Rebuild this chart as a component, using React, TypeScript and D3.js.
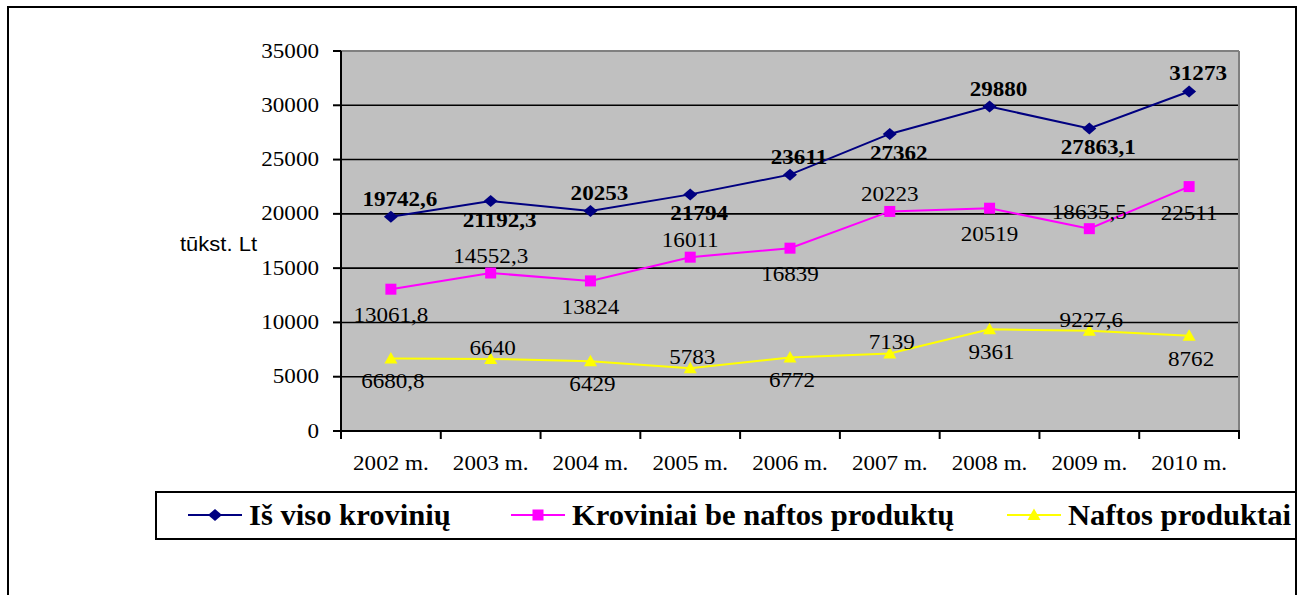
import React from "react";
import * as d3 from "d3";

const years = ["2002 m.", "2003 m.", "2004 m.", "2005 m.", "2006 m.", "2007 m.", "2008 m.", "2009 m.", "2010 m."];
const totalValues = [19742.6, 21192.3, 20253, 21794, 23611, 27362, 29880, 27863.1, 31273];
const nonOilValues = [13061.8, 14552.3, 13824, 16011, 16839, 20223, 20519, 18635.5, 22511];
const oilValues = [6680.8, 6640, 6429, 5783, 6772, 7139, 9361, 9227.6, 8762];
const totalLabels = ["19742,6", "21192,3", "20253", "21794", "23611", "27362", "29880", "27863,1", "31273"];
const nonOilLabels = ["13061,8", "14552,3", "13824", "16011", "16839", "20223", "20519", "18635,5", "22511"];
const oilLabels = ["6680,8", "6640", "6429", "5783", "6772", "7139", "9361", "9227,6", "8762"];
const totalPlace = ["a", "b", "a", "b", "a", "b", "a", "b", "a"];
const nonOilPlace = ["b", "a", "b", "a", "b", "a", "b", "a", "b"];
const oilPlace = ["b", "a", "b", "a", "b", "a", "b", "a", "b"];
const yTicks = [0, 5000, 10000, 15000, 20000, 25000, 30000, 35000];
const seriesNames = ["Iš viso krovinių", "Kroviniai be naftos produktų", "Naftos produktai"];

const SERIF = "'Liberation Serif', 'Times New Roman', serif";
const SANS = "'Liberation Sans', Arial, sans-serif";
const SX = 1.1;

function T({ x, y, anchor = "middle", size = 21, weight = "normal", family = SERIF, sx = SX, children }: any) {
  return (
    <text
      transform={`translate(${x},${y}) scale(${sx},1)`}
      textAnchor={anchor}
      fontSize={size}
      fontWeight={weight}
      fontFamily={family}
      fill="#000"
    >
      {children}
    </text>
  );
}

function Marker({ kind, cx, cy }: any) {
  if (kind === "diamond") {
    return <path d={`M${cx},${cy - 6} L${cx + 7},${cy} L${cx},${cy + 6} L${cx - 7},${cy} Z`} fill="#000080" />;
  }
  if (kind === "square") {
    return <rect x={cx - 5.5} y={cy - 5.5} width={11} height={11} fill="#FF00FF" />;
  }
  return <path d={`M${cx},${cy - 6.5} L${cx + 6.5},${cy + 5} L${cx - 6.5},${cy + 5} Z`} fill="#FFFF00" />;
}

export default function App() {
  const left = 341, right = 1239, top = 51, bottom = 431;
  const x = d3.scaleBand().domain(years).range([left, right]).padding(0);
  const y = d3.scaleLinear().domain([0, 35000]).range([bottom, top]);
  const cx = (i: number) => (x(years[i]) as number) + x.bandwidth() / 2;

  const line = d3
    .line<number>()
    .x((_, i) => cx(i))
    .y((d) => y(d));

  const series = [
    { vals: totalValues, labels: totalLabels, place: totalPlace, color: "#000080", kind: "diamond", weight: "bold", above: -11, below: 26, dx: 9 },
    { vals: nonOilValues, labels: nonOilLabels, place: nonOilPlace, color: "#FF00FF", kind: "square", weight: "normal", above: -10, below: 33, dx: 0 },
    { vals: oilValues, labels: oilLabels, place: oilPlace, color: "#FFFF00", kind: "triangle", weight: "normal", above: -4, below: 30, dx: 2 },
  ];

  const boundaries = years.map((yr) => x(yr) as number).concat([right]);

  const legendItems = [
    { x0: 188, tx: 249 },
    { x0: 511, tx: 572 },
    { x0: 1007, tx: 1068 },
  ];

  return (
    <svg width={1301} height={595} style={{ position: "absolute", left: 0, top: 0, display: "block", background: "#fff" }}>
      {/* outer border */}
      <rect x={8} y={7} width={1288} height={610} fill="#fff" stroke="#000" strokeWidth={2} />

      {/* plot background */}
      <rect x={left} y={top} width={right - left} height={bottom - top} fill="#C0C0C0" />
      {/* gridlines */}
      {yTicks.filter((t) => t > 0 && t < 35000).map((t) => (
        <line key={t} x1={left} x2={right} y1={y(t)} y2={y(t)} stroke="#000" strokeWidth={1.6} />
      ))}
      {/* plot top and right border */}
      <line x1={left} x2={right} y1={top} y2={top} stroke="#808080" strokeWidth={2} />
      <line x1={right} x2={right} y1={top} y2={bottom} stroke="#808080" strokeWidth={2} />
      {/* axes */}
      <line x1={left} x2={left} y1={top} y2={bottom + 1} stroke="#000" strokeWidth={2} />
      <line x1={left - 8} x2={right + 1} y1={bottom} y2={bottom} stroke="#000" strokeWidth={2} />
      {yTicks.map((t) => (
        <g key={t}>
          <line x1={left - 8} x2={left} y1={y(t)} y2={y(t)} stroke="#000" strokeWidth={2} />
          <T x={319} y={y(t) + 6.5} anchor="end">{String(t)}</T>
        </g>
      ))}
      {boundaries.map((b, i) => (
        <line key={i} x1={b} x2={b} y1={bottom} y2={bottom + 8} stroke="#000" strokeWidth={2} />
      ))}
      {years.map((yr, i) => (
        <T key={yr} x={cx(i)} y={470}>{yr}</T>
      ))}

      <T x={257} y={251} anchor="end" family={SANS} size={20}>tūkst. Lt</T>

      {/* series lines */}
      {series.map((s, si) => (
        <path key={si} d={line(s.vals) as string} fill="none" stroke={s.color} strokeWidth={2} />
      ))}
      {series.map((s, si) =>
        s.vals.map((v, i) => <Marker key={`${si}-${i}`} kind={s.kind} cx={cx(i)} cy={y(v)} />)
      )}
      {/* data labels */}
      {series.map((s, si) =>
        s.vals.map((v, i) => (
          <T
            key={`l${si}-${i}`}
            x={cx(i) + s.dx}
            y={y(v) + (s.place[i] === "a" ? s.above : s.below)}
            weight={s.weight}
          >
            {s.labels[i]}
          </T>
        ))
      )}

      {/* legend */}
      <rect x={156} y={492} width={1140} height={47} fill="#fff" stroke="#000" strokeWidth={2} />
      {series.map((s, si) => {
        const it = legendItems[si];
        return (
          <g key={`lg${si}`}>
            <line x1={it.x0} x2={it.x0 + 54} y1={515} y2={515} stroke={s.color} strokeWidth={2} />
            <Marker kind={s.kind} cx={it.x0 + 27} cy={515} />
            <T x={it.tx} y={525} anchor="start" size={30} weight="bold" sx={1.02}>{seriesNames[si]}</T>
          </g>
        );
      })}
    </svg>
  );
}
